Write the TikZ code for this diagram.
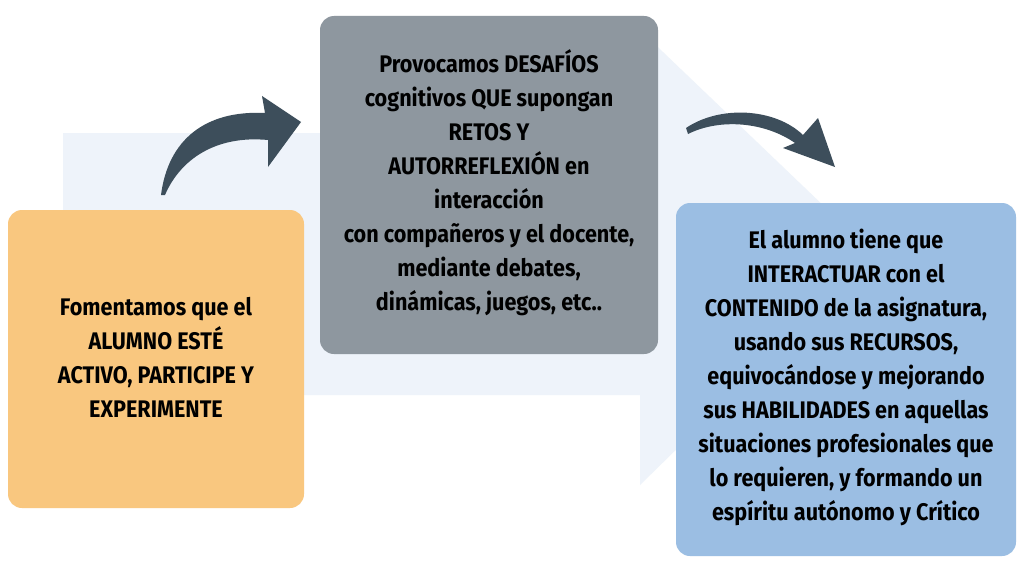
\documentclass[tikz,border=0pt]{standalone}
\usepackage{fontspec}
\setmainfont{Fira Sans}
\definecolor{pale}{HTML}{EEF3FA}
\definecolor{org}{HTML}{F9C77F}
\definecolor{gry}{HTML}{8E979F}
\definecolor{blu}{HTML}{9BBEE3}
\definecolor{ink}{HTML}{3D4E5B}
\tikzset{box/.style={rounded corners=14pt,draw=none,align=center,font=\bfseries\fontsize{24}{34}\selectfont,text=black}}
\begin{document}
\begin{tikzpicture}[x=1pt,y=-1pt]
\useasboundingbox (0,0) rectangle (1024,567);
\fill[white] (0,0) rectangle (1024,567);
\fill[pale] (63,133) -- (640,133) -- (640,30) -- (875,255) -- (640,485) -- (640,395) -- (63,395) -- cycle;
\fill[org,rounded corners=14pt] (8,210) rectangle (304,508);
\fill[gry,rounded corners=14pt] (320,16) rectangle (658,354);
\fill[blu,rounded corners=14pt] (676,203) rectangle (1016,556);
\node[box] (a) at (156,360) {\scalebox{0.9}[1]{\begin{tabular}{c}Fomentamos que el\\ALUMNO ESTÉ\\ACTIVO, PARTICIPE Y\\EXPERIMENTE\end{tabular}}};
\node[box] (b) at (489,185) {\scalebox{0.9}[1]{\begin{tabular}{c}Provocamos DESAFÍOS\\cognitivos QUE supongan\\RETOS Y\\AUTORREFLEXIÓN en\\interacción\\con compañeros y el docente,\\mediante debates,\\dinámicas, juegos, etc..\end{tabular}}};
\node[box] (c) at (846,378) {\scalebox{0.9}[1]{\begin{tabular}{c}El alumno tiene que\\INTERACTUAR con el\\CONTENIDO de la asignatura,\\usando sus RECURSOS,\\equivocándose y mejorando\\sus HABILIDADES en aquellas\\situaciones profesionales que\\lo requieren, y formando un\\espíritu autónomo y Crítico\end{tabular}}};
\fill[ink] (161,195) .. controls (168,140) and (205,110) .. (265,113) -- (262,96) -- (301,122) -- (268,167) -- (268,140) .. controls (215,135) and (180,160) .. (165,195) -- cycle;
\fill[ink] (686,128) .. controls (720,105) and (775,108) .. (803,135) -- (818,118) -- (835,167) -- (783,148) -- (795,143) .. controls (765,122) and (720,118) .. (688,134) -- cycle;
\end{tikzpicture}
\end{document}
